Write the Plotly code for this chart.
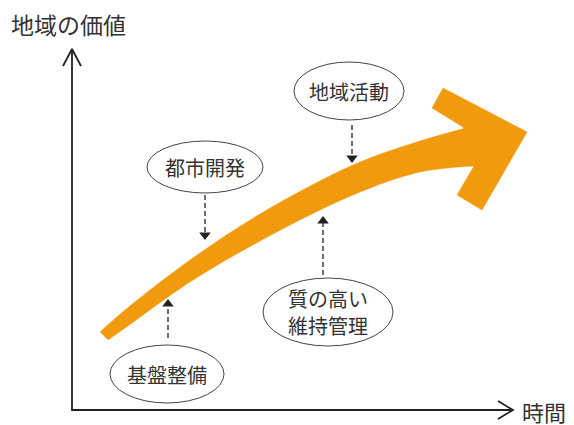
import plotly.graph_objects as go

# ---- diagram data (pixel-space coordinates) ----
W, H = 574, 425

# orange growth arrow: shaft edges (left -> right)
shaft_upper_x = [100, 125, 190, 260, 353, 420, 466]
shaft_upper_y = [332, 310, 260, 214, 165, 141, 128]
shaft_lower_x = [108, 125, 190, 260, 353, 420, 474]
shaft_lower_y = [340, 328, 282, 241, 195, 172, 166]
head_x = [463, 432, 443, 527, 482, 457, 474]
head_y = [127, 108, 88, 132, 210, 195, 166]

# labelled ellipses
labels = [["地域活動"], ["都市開発"], ["質の高い", "維持管理"], ["基盤整備"]]
label_cx = [349, 205, 328, 167]
label_cy = [91, 167, 312, 374]
label_rx = [55, 58, 65, 57]
label_ry = [29, 26, 34, 29]

# dashed pointers (start -> tip)
ptr_x = [352, 205, 323, 168]
ptr_y0 = [125, 195, 275, 338]
ptr_y1 = [158, 235, 221, 304]
ptr_dir = ["triangle-down", "triangle-down", "triangle-up", "triangle-up"]

# axes
axis_origin = (72, 410)
y_axis_top = 50
x_axis_right = 512
y_title = "地域の価値"
x_title = "時間"

ORANGE = "#F29A0E"
INK = "#222222"
TXT = "#333333"
FONT = "Noto Sans CJK JP"
LINE_GAP = 27

fig = go.Figure()

# shaft: upper edge, then lower edge filled to it
fig.add_trace(go.Scatter(
    x=shaft_upper_x, y=shaft_upper_y, mode="lines",
    line=dict(color=ORANGE, width=0.5, shape="spline", smoothing=1.0),
    hoverinfo="skip", showlegend=False))
fig.add_trace(go.Scatter(
    x=shaft_lower_x, y=shaft_lower_y, mode="lines", fill="tonexty", fillcolor=ORANGE,
    line=dict(color=ORANGE, width=0.5, shape="spline", smoothing=1.0),
    hoverinfo="skip", showlegend=False))
# head
fig.add_trace(go.Scatter(
    x=head_x + [head_x[0]], y=head_y + [head_y[0]],
    mode="lines", fill="toself", fillcolor=ORANGE,
    line=dict(color=ORANGE, width=0.5),
    hoverinfo="skip", showlegend=False))

# axes lines
ox, oy = axis_origin
fig.add_trace(go.Scatter(x=[ox, ox, x_axis_right], y=[y_axis_top, oy, oy],
                         mode="lines", line=dict(color=INK, width=1.8),
                         hoverinfo="skip", showlegend=False))
# arrowheads (open)
fig.add_trace(go.Scatter(x=[ox - 9, ox, ox + 9], y=[y_axis_top + 16, y_axis_top - 1, y_axis_top + 16],
                         mode="lines", line=dict(color=INK, width=1.8),
                         hoverinfo="skip", showlegend=False))
fig.add_trace(go.Scatter(x=[x_axis_right - 14, x_axis_right + 1, x_axis_right - 14], y=[oy - 9, oy, oy + 9],
                         mode="lines", line=dict(color=INK, width=1.8),
                         hoverinfo="skip", showlegend=False))

# dashed pointers
for px, a, b, sym in zip(ptr_x, ptr_y0, ptr_y1, ptr_dir):
    fig.add_trace(go.Scatter(x=[px, px], y=[a, b], mode="lines",
                             line=dict(color=INK, width=1.3, dash="5px,3px"),
                             hoverinfo="skip", showlegend=False))
    fig.add_trace(go.Scatter(x=[px], y=[b], mode="markers",
                             marker=dict(symbol=sym, size=10, color=INK),
                             hoverinfo="skip", showlegend=False))

shapes = []
for cx, cy, rx, ry in zip(label_cx, label_cy, label_rx, label_ry):
    shapes.append(dict(type="circle", xref="x", yref="y",
                       x0=cx - rx, x1=cx + rx, y0=cy - ry, y1=cy + ry,
                       line=dict(color="#444444", width=1), fillcolor="white", layer="above"))

annotations = []
for lines, cx, cy in zip(labels, label_cx, label_cy):
    n = len(lines)
    for i, t in enumerate(lines):
        yy = cy + (i - (n - 1) / 2) * LINE_GAP
        annotations.append(dict(x=cx, y=yy, xref="x", yref="y", text=t, showarrow=False,
                                font=dict(family=FONT, size=20, color=TXT)))
annotations.append(dict(x=9, y=24, xref="x", yref="y", text=y_title, showarrow=False,
                        xanchor="left", font=dict(family=FONT, size=23, color=TXT)))
annotations.append(dict(x=520, y=411, xref="x", yref="y", text=x_title, showarrow=False,
                        xanchor="left", font=dict(family=FONT, size=22, color=TXT)))

fig.update_layout(
    width=W, height=H, margin=dict(l=0, r=0, t=0, b=0),
    paper_bgcolor="white", plot_bgcolor="white",
    xaxis=dict(range=[0, W], visible=False, fixedrange=True),
    yaxis=dict(range=[H, 0], visible=False, fixedrange=True),
    shapes=shapes, annotations=annotations, showlegend=False)

fig.write_html("out.html", config={"displayModeBar": False},
               post_script="document.body.style.margin='0';document.body.style.overflow='hidden';")
